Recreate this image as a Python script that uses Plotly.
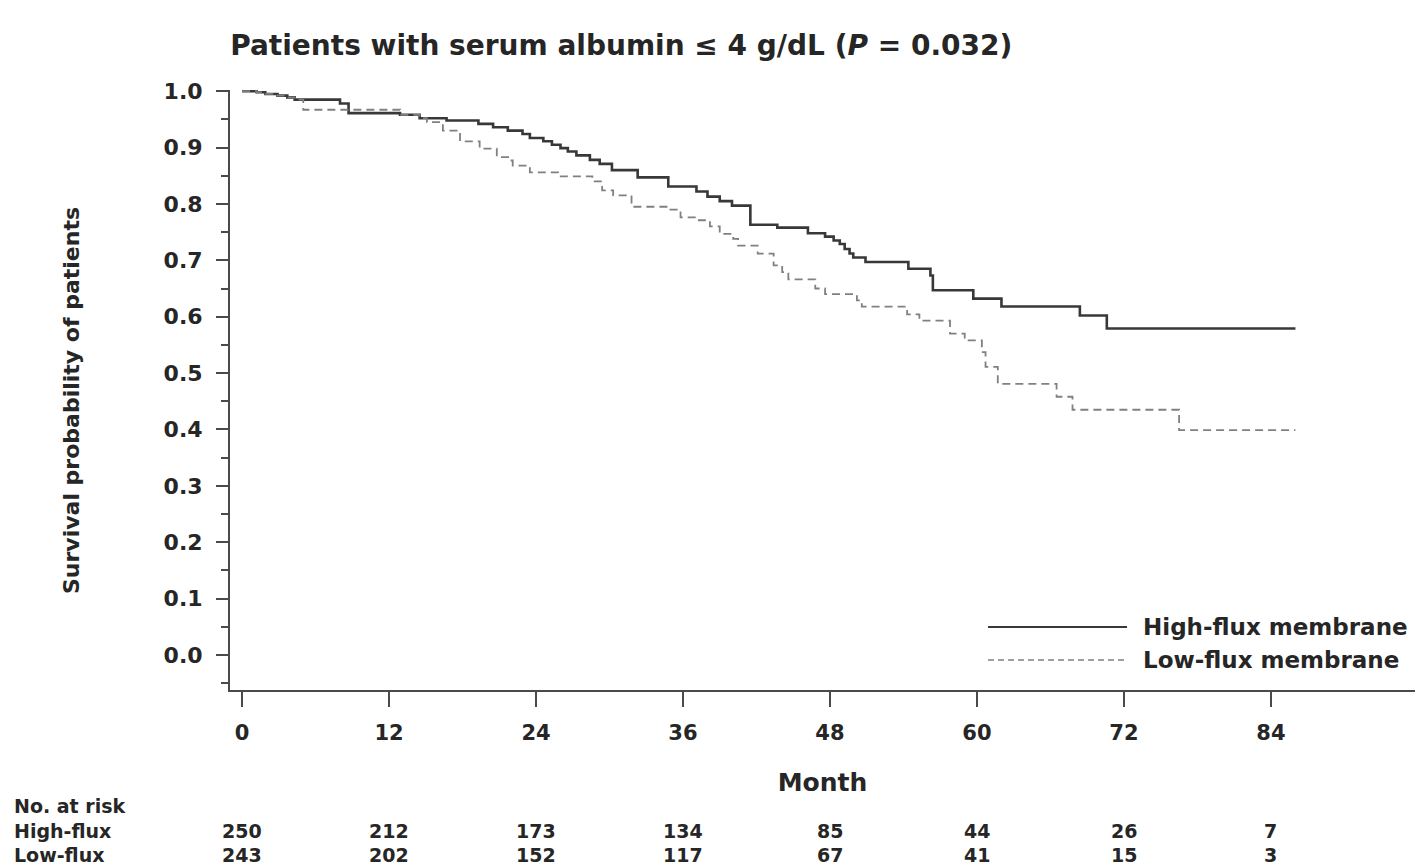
import plotly.graph_objects as go

# Kaplan-Meier estimates (month of event, survival after the step)
high_month = [0, 1.2, 1.9, 2.9, 3.7, 4.3, 8.0, 8.7, 12.9, 14.5, 16.7, 19.3, 20.5, 21.7,
              22.9, 23.5, 24.6, 25.3, 26.0, 26.6, 27.3, 28.4, 29.2, 30.2, 32.3, 34.8,
              37.1, 38.0, 39.0, 40.0, 41.5, 43.7, 46.2, 47.6, 48.3, 48.8, 49.2, 49.6,
              49.9, 50.9, 54.4, 56.2, 56.4, 59.7, 62.0, 68.4, 70.6, 86.0]
high_surv = [1.000, 0.998, 0.995, 0.992, 0.989, 0.985, 0.978, 0.961, 0.958, 0.952, 0.948,
             0.942, 0.936, 0.930, 0.924, 0.917, 0.911, 0.905, 0.899, 0.893, 0.886, 0.878,
             0.871, 0.860, 0.847, 0.831, 0.822, 0.813, 0.805, 0.797, 0.763, 0.758, 0.748,
             0.742, 0.735, 0.729, 0.720, 0.712, 0.705, 0.697, 0.685, 0.673, 0.647, 0.632,
             0.618, 0.602, 0.579, 0.579]

low_month = [0, 1.2, 1.9, 2.9, 3.7, 4.3, 5.0, 12.9, 14.5, 15.1, 16.4, 17.8, 19.4, 20.8,
             21.9, 22.1, 23.5, 25.8, 28.6, 29.4, 30.3, 31.8, 34.9, 35.8, 37.1, 38.2, 39.0,
             40.1, 40.5, 42.1, 43.4, 44.1, 44.6, 46.8, 47.6, 50.2, 50.6, 54.3, 55.3, 57.8,
             59.0, 60.4, 60.7, 61.7, 66.5, 67.8, 76.5, 86.0]
low_surv = [1.000, 0.998, 0.995, 0.992, 0.989, 0.985, 0.967, 0.958, 0.952, 0.945, 0.930,
            0.911, 0.898, 0.883, 0.877, 0.868, 0.856, 0.849, 0.840, 0.824, 0.815, 0.795,
            0.790, 0.776, 0.771, 0.760, 0.747, 0.738, 0.726, 0.712, 0.691, 0.679, 0.666,
            0.650, 0.640, 0.629, 0.618, 0.604, 0.593, 0.570, 0.558, 0.537, 0.511, 0.481,
            0.458, 0.435, 0.399, 0.399]

# Number-at-risk table
risk_months = [0, 12, 24, 36, 48, 60, 72, 84]
risk_high = [250, 212, 173, 134, 85, 44, 26, 7]
risk_low = [243, 202, 152, 117, 67, 41, 15, 3]

series_names = ["High-flux membrane", "Low-flux membrane"]
row_names = ["High-flux", "Low-flux"]

FONT = "DejaVu Sans, Verdana, sans-serif"
TEXT = "#262626"
AXIS = "#4a4a4a"

fig = go.Figure()
fig.add_trace(go.Scatter(
    x=high_month, y=high_surv, mode="lines", line_shape="hv",
    line=dict(color="#383838", width=2.6), name=series_names[0], showlegend=False,
))
fig.add_trace(go.Scatter(
    x=low_month, y=low_surv, mode="lines", line_shape="hv",
    line=dict(color="#808080", width=1.8, dash="8px,5px"), name=series_names[1], showlegend=False,
))

# Legend drawn in the lower right corner of the plot area
legend_rows = [(0.105, dict(color="#383838", width=2.2), series_names[0]),
               (0.050, dict(color="#808080", width=1.6, dash="6px,4px"), series_names[1])]
for ypos, lstyle, label in legend_rows:
    fig.add_shape(type="line", xref="paper", yref="paper", x0=0.6397, x1=0.757,
                  y0=ypos, y1=ypos, line=lstyle)
    fig.add_annotation(xref="paper", yref="paper", x=0.769, y=ypos, text="<b>%s</b>" % label,
                       showarrow=False, xanchor="left", yanchor="middle",
                       font=dict(family=FONT, size=23, color=TEXT))

# Number-at-risk rows under the x axis
fig.add_annotation(xref="paper", yref="paper", x=-0.184, y=-0.193, text="<b>No. at risk</b>",
                   showarrow=False, xanchor="left", yanchor="middle",
                   font=dict(family=FONT, size=19, color=TEXT))
for ypos, label, counts in [(-0.235, row_names[0], risk_high), (-0.275, row_names[1], risk_low)]:
    fig.add_annotation(xref="paper", yref="paper", x=-0.184, y=ypos, text="<b>%s</b>" % label,
                       showarrow=False, xanchor="left", yanchor="middle",
                       font=dict(family=FONT, size=19, color=TEXT))
    for m, n in zip(risk_months, counts):
        fig.add_annotation(xref="x", yref="paper", x=m, y=ypos, text="<b>%d</b>" % n,
                           showarrow=False, xanchor="center", yanchor="middle",
                           font=dict(family=FONT, size=19, color=TEXT))

# Vertical y-axis caption
fig.add_annotation(xref="paper", yref="paper", x=-0.1333, y=0.4817,
                   text="<b>Survival probability of patients</b>", textangle=-90,
                   showarrow=False, xanchor="center", yanchor="middle",
                   font=dict(family=FONT, size=22, color=TEXT))

fig.update_layout(
    width=1421, height=866,
    margin=dict(l=230, r=6, t=90, b=176),
    paper_bgcolor="white", plot_bgcolor="white",
    font=dict(family=FONT, color=TEXT),
    title=dict(text="<b>Patients with serum albumin ≤ 4 g/dL (<i>P</i> = 0.032)</b>",
               x=0.162, xanchor="left", y=0.948, yanchor="middle",
               font=dict(family=FONT, size=28, color=TEXT)),
)

fig.update_xaxes(
    range=[-0.98, 95.76], tickvals=risk_months, ticktext=["<b>%d</b>" % m for m in risk_months],
    ticks="outside", ticklen=15, tickwidth=2, tickcolor=AXIS,
    showline=True, linecolor=AXIS, linewidth=2, showgrid=False, zeroline=False,
    tickfont=dict(family=FONT, size=21, color=TEXT), ticklabelstandoff=8,
    title=dict(text="<b>Month</b>", font=dict(family=FONT, size=25, color=TEXT), standoff=29),
)
y_ticks = [round(0.1 * i, 1) for i in range(11)]
fig.update_yaxes(
    range=[-0.062, 1.002], tickvals=y_ticks, ticktext=["<b>%.1f</b>" % v for v in y_ticks],
    ticks="outside", ticklen=12, tickwidth=2, tickcolor=AXIS,
    minor=dict(dtick=0.05, tick0=0, ticks="outside", ticklen=7, tickwidth=1.5, tickcolor=AXIS),
    showline=True, linecolor=AXIS, linewidth=2, showgrid=False, zeroline=False,
    tickfont=dict(family=FONT, size=22, color=TEXT), ticklabelstandoff=9,
)

fig.write_html("out.html")
